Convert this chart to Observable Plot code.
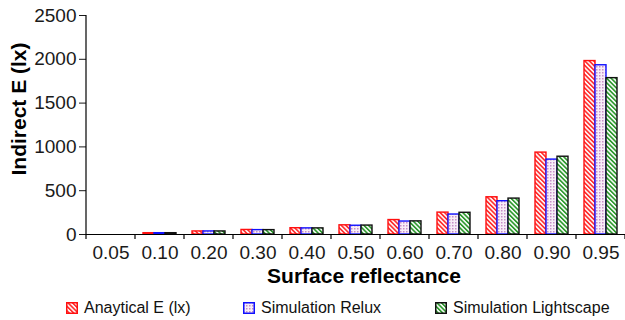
<!DOCTYPE html>
<html><head><meta charset="utf-8">
<script src="https://cdn.jsdelivr.net/npm/d3@7"></script>
<script src="https://cdn.jsdelivr.net/npm/@observablehq/plot@0.6"></script>
<style>
body{margin:0;background:#fff;font-family:"Liberation Sans",Arial,sans-serif;}
#legend{position:relative;height:25px;width:625px;font-size:16px;color:#111;}
.item{position:absolute;top:0;height:25px;display:flex;align-items:center;white-space:nowrap;}
.item svg{margin-right:6px;display:block;}
</style></head><body>
<div id="chart"></div>
<div id="legend"></div>
<script>
const categories = ["0.05","0.10","0.20","0.30","0.40","0.50","0.60","0.70","0.80","0.90","0.95"];
const seriesNames = ["Anaytical E (lx)","Simulation Relux","Simulation Lightscape"];
const analytical = [0, 15, 35, 52, 72, 105, 165, 250, 425, 935, 1980];
const relux      = [0, 15, 35, 50, 70, 100, 148, 228, 380, 855, 1932];
const lightscape = [0, 15, 35, 50, 70, 102, 150, 248, 410, 888, 1785];
const yTicks = [0, 500, 1000, 1500, 2000, 2500];
const yLabel = "Indirect E (lx)";
const xLabel = "Surface reflectance";

const seriesValues = [analytical, relux, lightscape];
const fills = ["url(#pRed)", "url(#pBlue)", "url(#pGreen)"];
const strokes = ["#ff1010", "#1010ff", "#111111"];
const legendLeft = [66, 243, 435];

const rows = seriesNames.map((s, j) => categories.map((c, i) => ({category: c, series: s, value: seriesValues[j][i]})));

const chart = Plot.plot({
  width: 625, height: 295,
  marginLeft: 85, marginRight: 0, marginTop: 15, marginBottom: 61,
  style: {fontFamily: "Liberation Sans, Arial, sans-serif", fontSize: "19px", color: "#1a1a1a", background: "white"},
  fx: {domain: categories, padding: 0, label: null, tickSize: 0, tickPadding: 11},
  x: {domain: seriesNames, axis: null, paddingInner: 0, paddingOuter: 0.68},
  y: {domain: [0, 2500], ticks: yTicks, tickFormat: d3.format("d"), tickSize: 7, tickPadding: 3, label: null},
  marks: [
    ...rows.map((r, j) => Plot.barY(r, {fx: "category", x: "series", y: "value", fill: fills[j], stroke: strokes[j], strokeWidth: 1.4})),
    Plot.ruleY([0], {stroke: "#000", strokeWidth: 1.2}),
    Plot.text([categories[0]], {fx: d => d, frameAnchor: "left", text: () => yLabel, rotate: -90,
      textAnchor: "middle", lineAnchor: "middle", dx: -67, dy: -16, fontSize: 21, fontWeight: "bold", fill: "#000"}),
    Plot.text([categories[5]], {fx: d => d, frameAnchor: "bottom", text: () => xLabel,
      textAnchor: "middle", lineAnchor: "middle", dx: 8, dy: 42, fontSize: 21, fontWeight: "bold", fill: "#000"})
  ]
});

// pattern definitions
const svg = d3.select(chart.tagName.toLowerCase() === "svg" ? chart : chart.querySelector("svg"));
const defs = svg.insert("defs", ":first-child");
function stripes(id, color) {
  const p = defs.append("pattern").attr("id", id).attr("patternUnits", "userSpaceOnUse")
    .attr("width", 3.2).attr("height", 3.2).attr("patternTransform", "rotate(-45)");
  p.append("rect").attr("width", 3.2).attr("height", 3.2).attr("fill", "#fff");
  p.append("rect").attr("width", 1.7).attr("height", 3.2).attr("fill", color);
}
stripes("pRed", "#ff3030");
stripes("pGreen", "#2f9a2f");
const pb = defs.append("pattern").attr("id", "pBlue").attr("patternUnits", "userSpaceOnUse").attr("width", 3).attr("height", 3);
pb.append("rect").attr("width", 3).attr("height", 3).attr("fill", "#f7eef7");
pb.append("rect").attr("width", 1.5).attr("height", 1.5).attr("fill", "#c88ec8");

// axis spine and category boundary ticks, from the plot's scales
const fx = chart.scale("fx");
const y = chart.scale("y");
const y0 = y.apply(0), yTop = y.apply(2500);
const bw = fx.bandwidth;
const g = svg.append("g").attr("stroke", "#000").attr("stroke-width", 1.2);
const xLeft = fx.apply(categories[0]);
g.append("line").attr("x1", xLeft).attr("x2", xLeft).attr("y1", yTop).attr("y2", y0);
const bounds = categories.map(c => fx.apply(c)).concat([fx.apply(categories[categories.length - 1]) + bw]);
bounds.forEach(b => g.append("line").attr("x1", b).attr("x2", b).attr("y1", y0).attr("y2", y0 + 5));

document.getElementById("chart").appendChild(chart);

// legend
const legend = document.getElementById("legend");
seriesNames.forEach((s, j) => {
  const item = document.createElement("div");
  item.className = "item";
  item.style.left = legendLeft[j] + "px";
  item.innerHTML = `<svg width="12" height="12"><rect x="0.75" y="0.75" width="10.5" height="10.5" fill="${fills[j]}" stroke="${strokes[j]}" stroke-width="1.5"/></svg><span>${s}</span>`;
  legend.appendChild(item);
});
</script>
</body></html>
